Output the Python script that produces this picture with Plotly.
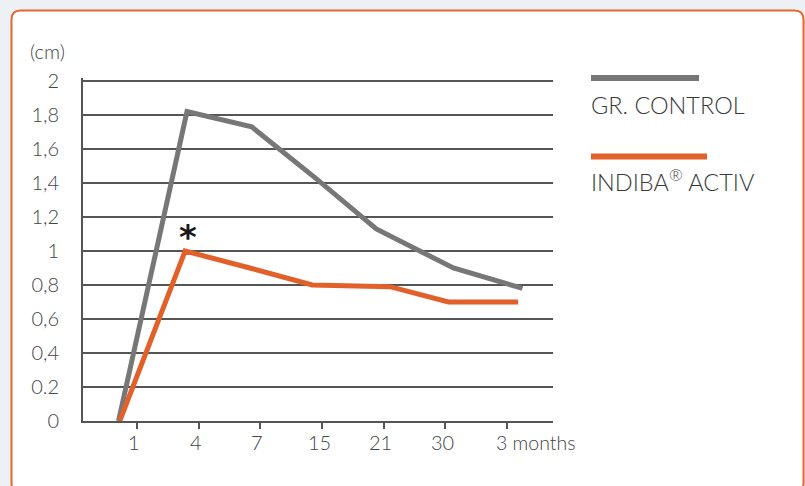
import plotly.graph_objects as go

# ---- data ----
tick_labels = ["1", "4", "7", "15", "21", "30", "3 months"]
tick_pos = [1, 2, 3, 4, 5, 6, 7]

control_x = [0.70, 1.81, 2.86, 3.89, 4.88, 6.13, 7.25]
control_y = [0.00, 1.82, 1.73, 1.43, 1.13, 0.90, 0.78]

indiba_x = [0.72, 1.78, 2.83, 3.84, 5.10, 6.05, 7.18]
indiba_y = [0.00, 1.00, 0.90, 0.80, 0.79, 0.70, 0.70]

y_ticks = [0, 0.2, 0.4, 0.6, 0.8, 1.0, 1.2, 1.4, 1.6, 1.8, 2.0]
y_tick_text = ["0", "0.2", "0,4", "0,6", "0,8", "1", "1,2", "1,4", "1,6", "1,8", "2"]

series_names = ["GR. CONTROL", "INDIBA<sup>®</sup> ACTIV"]
GRAY = "#777777"
ORANGE = "#e2602a"
GRID = "#555555"
FONT = "Lato"

W, H = 805, 486
L, R, T, B = 83, 252, 78, 65
PW = W - L - R
PH = H - T - B


def px(x):
    return (x - L) / PW


def py(y):
    return (H - B - y) / PH


fig = go.Figure()
fig.add_trace(go.Scatter(x=control_x, y=control_y, mode="lines", name="GR. CONTROL",
                         line=dict(color=GRAY, width=5), showlegend=False))
fig.add_trace(go.Scatter(x=indiba_x, y=indiba_y, mode="lines", name="INDIBA® ACTIV",
                         line=dict(color=ORANGE, width=5), showlegend=False))

# rounded frame
x0, y0, x1, y1, r = 11.5, 10.5, 803.5, 492, 9
path = (f"M {px(x0)},{py(y0 + r)} Q {px(x0)},{py(y0)} {px(x0 + r)},{py(y0)} "
        f"L {px(x1 - r)},{py(y0)} Q {px(x1)},{py(y0)} {px(x1)},{py(y0 + r)} "
        f"L {px(x1)},{py(y1 - r)} Q {px(x1)},{py(y1)} {px(x1 - r)},{py(y1)} "
        f"L {px(x0 + r)},{py(y1)} Q {px(x0)},{py(y1)} {px(x0)},{py(y1 - r)} Z")
shapes = [dict(type="path", xref="paper", yref="paper", path=path, layer="below",
               fillcolor="white", line=dict(color="#e8652c", width=2))]

# legend bars
shapes.append(dict(type="line", xref="paper", yref="paper", x0=px(591), x1=px(699),
                   y0=py(78), y1=py(78), line=dict(color=GRAY, width=6)))
shapes.append(dict(type="line", xref="paper", yref="paper", x0=px(591), x1=px(707),
                   y0=py(156.5), y1=py(156.5), line=dict(color=ORANGE, width=6)))

annotations = []
for name, yy in zip(series_names, [105, 180]):
    annotations.append(dict(text=name, xref="paper", yref="paper", x=px(589), y=py(yy),
                            xanchor="left", yanchor="middle", showarrow=False,
                            font=dict(family=FONT, size=23.5, color="#3a3a3a", weight=300)))

annotations.append(dict(text="(cm)", xref="paper", yref="paper", x=px(28), y=py(51),
                        xanchor="left", yanchor="middle", showarrow=False,
                        font=dict(family=FONT, size=20, color="#444444", weight=300)))

for tv, tt in zip(tick_pos, tick_labels):
    if tt == "3 months":
        annotations.append(dict(text=tt, x=tv, xref="x", yref="paper", y=py(442),
                                xanchor="left", yanchor="middle", xshift=-13,
                                showarrow=False,
                                font=dict(family=FONT, size=19.5, color="#444444", weight=300)))
    else:
        annotations.append(dict(text=tt, x=tv, xref="x", yref="paper", y=py(442),
                                xanchor="center", yanchor="middle", xshift=-3,
                                showarrow=False,
                                font=dict(family=FONT, size=20, color="#444444", weight=300)))

# significance asterisk above the INDIBA peak
annotations.append(dict(text="*", x=indiba_x[1], y=indiba_y[1], xref="x", yref="y",
                        xanchor="center", yanchor="middle", xshift=3, yshift=14,
                        showarrow=False,
                        font=dict(family="DejaVu Sans", size=34, color="#1a1a1a", weight="bold")))

fig.update_layout(
    width=W, height=H,
    margin=dict(l=L, r=R, t=T, b=B),
    paper_bgcolor="#edf1f4",
    plot_bgcolor="rgba(0,0,0,0)",
    shapes=shapes,
    annotations=annotations,
    showlegend=False,
    xaxis=dict(range=[0.124, 0.124 + PW / 61.67], showgrid=False, zeroline=False,
               showline=True, linecolor=GRID, linewidth=2,
               tickvals=tick_pos, ticks="outside", ticklen=6, tickwidth=2,
               tickcolor=GRID, showticklabels=False),
    yaxis=dict(range=[0, 2 * PH / 340], tickvals=y_ticks, ticktext=y_tick_text,
               showgrid=True, gridcolor=GRID, gridwidth=2, zeroline=False,
               showline=True, linecolor=GRID, linewidth=2, ticks="",
               ticklabelstandoff=18,
               tickfont=dict(family=FONT, size=20, color="#444444", weight=300)),
)

fig.write_html("out.html", config={"displayModeBar": False},
               post_script="document.body.style.margin='0';document.body.style.overflow='hidden';")
